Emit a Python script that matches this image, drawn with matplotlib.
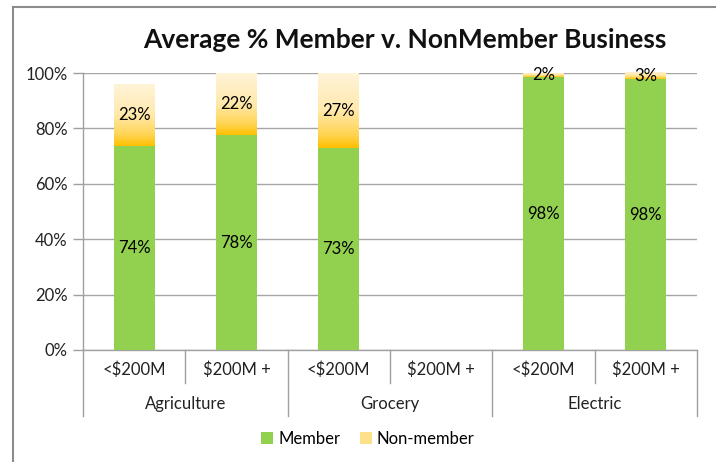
import matplotlib
matplotlib.use("Agg")
import matplotlib.pyplot as plt
import numpy as np
from matplotlib.colors import LinearSegmentedColormap
from matplotlib.lines import Line2D
from matplotlib.transforms import blended_transform_factory

plt.rcParams['font.family'] = ['Lato', 'DejaVu Sans']

sub_labels = ["<$200M", "$200M +", "<$200M", "$200M +", "<$200M", "$200M +"]
groups = ["Agriculture", "Grocery", "Electric"]
member = [73.6, 77.6, 72.9, np.nan, 98.4, 97.7]
non_member = [22.6, 22.4, 27.1, np.nan, 1.6, 2.6]
title = "Average % Member v. NonMember Business"

W, H = 716, 462
fig = plt.figure(figsize=(W / 100, H / 100), dpi=100)
ax = fig.add_axes([83 / W, 1 - 350 / H, (697 - 83) / W, (350 - 73) / H])

x = np.arange(len(sub_labels))
green = "#92D050"
bw = 0.4
fs = 12
b1 = ax.bar(x, member, bw, color=green, label="Member", zorder=3)
b2 = ax.bar(x, non_member, bw, bottom=member, color="#FFE08A", label="Non-member", zorder=3)

cmap = LinearSegmentedColormap.from_list(
    "nm", [(0, "#FFC000"), (0.18, "#FFD454"), (0.5, "#FFE9AC"), (1, "#FFF4DA")])
grad = np.linspace(0, 1, 256).reshape(-1, 1)
for p in b2.patches:
    if not np.isfinite(p.get_height()):
        continue
    x0, y0 = p.get_x(), p.get_y()
    w, h = p.get_width(), p.get_height()
    im = ax.imshow(grad, extent=(x0, x0 + w, y0, y0 + h), origin="lower",
                   cmap=cmap, aspect="auto", zorder=3.5)
    im.set_clip_path(p)

ax.set_xlim(-0.5, 5.5)
ax.set_ylim(0, 100)
ax.set_yticks(np.arange(0, 101, 20))
ax.set_yticklabels([f"{v}%" for v in range(0, 101, 20)], fontsize=fs, color="#222222")
ax.set_xticks(x)
ax.set_xticklabels(sub_labels, fontsize=fs, color="#222222")
ax.tick_params(axis="x", length=0, pad=8)
ax.tick_params(axis="y", length=7, color="#A0A0A0", width=1, pad=4)
ax.grid(axis="y", color="#A6A6A6", linewidth=1, zorder=0)
ax.set_axisbelow(True)
for s in ["top", "right"]:
    ax.spines[s].set_visible(False)
for s in ["left", "bottom"]:
    ax.spines[s].set_color("#A0A0A0")
    ax.spines[s].set_linewidth(1)

# labels
for i in range(len(x)):
    m, n = member[i], non_member[i]
    if np.isfinite(m):
        ax.text(x[i], m / 2, f"{m:.0f}%", ha="center", va="center", fontsize=fs, zorder=5)
    if np.isfinite(n):
        ax.text(x[i], min(m + n / 2, 99.2), f"{n:.0f}%", ha="center", va="center", fontsize=fs, zorder=5)

# multi-level axis separators
trans = blended_transform_factory(ax.transData, ax.transAxes)
ax_h_px = 350 - 73
short = -33 / ax_h_px
long_ = -66 / ax_h_px
for xs in [0.5, 2.5, 4.5]:
    ax.plot([xs, xs], [0, short], transform=trans, color="#A0A0A0", lw=1, clip_on=False)
for xs in [-0.5, 1.5, 3.5, 5.5]:
    ax.plot([xs, xs], [0, long_], transform=trans, color="#A0A0A0", lw=1, clip_on=False)
for gi, g in enumerate(groups):
    ax.text(2 * gi + 0.5, -(404 - 350) / ax_h_px, g, transform=trans, ha="center",
            va="center", fontsize=fs, color="#222222")

fig.text(405 / W, 1 - 40 / H, title, ha="center", va="center", fontsize=19,
         fontweight="bold", color="#111111")

leg = fig.legend(handles=[b1, b2], labels=["Member", "Non-member"], loc="center",
                 bbox_to_anchor=(368 / W, 1 - 439 / H), ncol=2, frameon=False,
                 fontsize=fs, handlelength=0.7, handleheight=0.7, handletextpad=0.3,
                 columnspacing=1.2)

# figure border
fig.add_artist(Line2D([13 / W, 13 / W], [0, 1 - 7 / H], color="#8C8C8C", lw=1.5))
fig.add_artist(Line2D([13 / W, 1], [1 - 7 / H, 1 - 7 / H], color="#8C8C8C", lw=1.5))

fig.savefig("out.png", dpi=100)
